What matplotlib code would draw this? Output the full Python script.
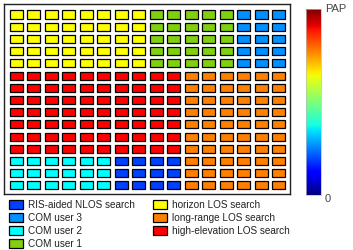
import matplotlib
matplotlib.use('Agg')
import matplotlib.pyplot as plt
import matplotlib.patches as mpatches
import matplotlib.colors as mcolors
import matplotlib.colorbar as mcolorbar
import numpy as np

plt.rcParams['font.family'] = ['Liberation Sans', 'DejaVu Sans']

# categories and their colours
labels = ['RIS-aided NLOS search', 'COM user 3', 'COM user 2', 'COM user 1',
          'horizon LOS search', 'long-range LOS search', 'high-elevation LOS search']
colors = ['#0040ff', '#0090ff', '#00ffff', '#80d010',
          '#ffff00', '#ff8000', '#ff0000']

n_rows = 15
n_cols = 16
# blocks: category index, first row, last row+1, first col, last col+1
block_cat = [4, 3, 1, 0, 2, 5, 6]
block_r0 = [0, 0, 0, 12, 12, 5, 5]
block_r1 = [5, 5, 5, 15, 15, 15, 12]
block_c0 = [0, 8, 13, 6, 0, 10, 0]
block_c1 = [8, 13, 16, 10, 6, 16, 10]

grid = np.zeros((n_rows, n_cols), dtype=int)
for k, r0, r1, c0, c1 in zip(block_cat, block_r0, block_r1, block_c0, block_c1):
    grid[r0:r1, c0:c1] = k

fig = plt.figure(figsize=(3.53, 2.5), dpi=100)
ax = fig.add_axes([4/353, 56/250, 286/353, 190/250])
w, h = 0.74, 0.66
for r in range(n_rows):
    for c in range(n_cols):
        ax.add_patch(mpatches.Rectangle((c - w/2, r - h/2), w, h,
                                        facecolor=colors[grid[r, c]],
                                        edgecolor='black', linewidth=0.9))
ax.set_xlim(-0.71, 15.63)
ax.set_ylim(14.7, -0.86)
ax.set_xticks([])
ax.set_yticks([])
for s in ax.spines.values():
    s.set_linewidth(1.0)
    s.set_color('#222222')

cax = fig.add_axes([306/353, 55/250, 15/353, 186/250])
cb = mcolorbar.ColorbarBase(cax, cmap=plt.get_cmap('jet'),
                            norm=mcolors.Normalize(0, 1), orientation='vertical')
cb.set_ticks([])
cb.outline.set_edgecolor('#bbbbbb')
cb.outline.set_linewidth(0.5)
fig.text(325/353, 1 - 4/250, 'PAP', fontsize=8, color='#444444', ha='left', va='top')
fig.text(325/353, 1 - 199/250, '0', fontsize=8, color='#444444', ha='left', va='center')

handles = [mpatches.Patch(facecolor=col, edgecolor='black', linewidth=0.9, label=lab)
           for col, lab in zip(colors, labels)]
leg = fig.legend(handles=handles, loc='upper left', bbox_to_anchor=(7/353, 1 - 198/250),
                 ncol=2, frameon=False, fontsize=7.2, handlelength=1.35, handleheight=0.95,
                 handletextpad=0.5, labelspacing=0.3, columnspacing=1.9,
                 borderpad=0.2, borderaxespad=0)
for t in leg.get_texts():
    t.set_color('#222222')

fig.savefig('out.png', dpi=100)
